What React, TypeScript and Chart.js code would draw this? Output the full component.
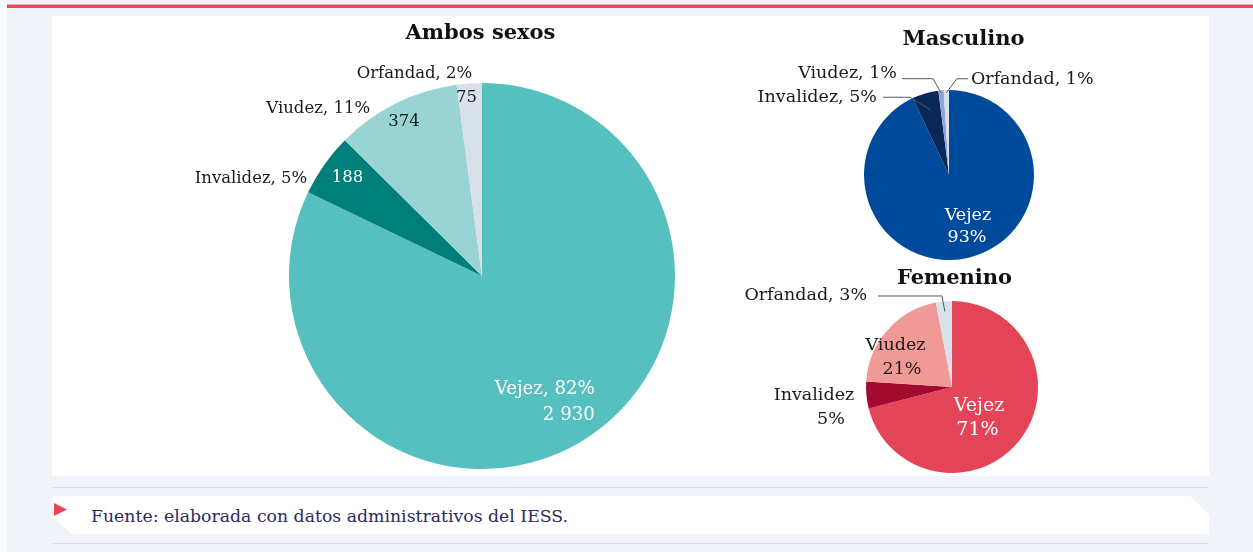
import React, { useEffect, useRef } from "react";
import { Chart, registerables } from "chart.js";

Chart.register(...registerables);

// ---------- data ----------
const categories = ["Vejez", "Invalidez", "Viudez", "Orfandad"];
const ambosValues = [2930, 188, 374, 75];
const masculinoValues = [93, 5, 1, 1];
const femeninoValues = [71, 5, 21, 3];

const titles = ["Ambos sexos", "Masculino", "Femenino"];

// label texts (one entry per drawn line): [sliceIndex, text]
const ambosLabelTexts: [number, string][] = [
  [0, "Vejez, 82%"],
  [0, "2 930"],
  [1, "188"],
  [1, "Invalidez, 5%"],
  [2, "374"],
  [2, "Viudez, 11%"],
  [3, "75"],
  [3, "Orfandad, 2%"],
];
const masculinoLabelTexts: [number, string][] = [
  [0, "Vejez"],
  [0, "93%"],
  [1, "Invalidez, 5%"],
  [2, "Viudez, 1%"],
  [3, "Orfandad, 1%"],
];
const femeninoLabelTexts: [number, string][] = [
  [0, "Vejez"],
  [0, "71%"],
  [1, "Invalidez"],
  [1, "5%"],
  [2, "Viudez"],
  [2, "21%"],
  [3, "Orfandad, 3%"],
];
const sourceText = "Fuente: elaborada con datos administrativos del IESS.";

// ---------- styles ----------
const FONT = '"DejaVu Serif", "Liberation Serif", serif';
const DARK = "#1a1a1a";
const WHITE = "#ffffff";
const LEADER = "#4b5b6b";

const ambosColors = ["#56bfbf", "#007f7a", "#9ad3d4", "#d8e0ea"];
const masculinoColors = ["#004a9b", "#0a2857", "#8fa3dc", "#d8e0ea"];
const femeninoColors = ["#e34458", "#a30a2f", "#f09a98", "#d8e0ea"];

// label layout, same order as the texts: f (fraction of radius along mid-angle), dx, dy, align, size, color
type LL = { f: number; dx: number; dy: number; align: CanvasTextAlign; size: number; color: string };
const ambosLabelLayout: LL[] = [
  { f: 0.7, dx: 41, dy: -1.5, align: "right", size: 18.2, color: WHITE },
  { f: 0.7, dx: 41, dy: 24.5, align: "right", size: 18.2, color: WHITE },
  { f: 0.853, dx: 0, dy: -3, align: "center", size: 16.5, color: WHITE },
  { f: 1, dx: -17, dy: 14, align: "right", size: 16.5, color: DARK },
  { f: 0.908, dx: 0, dy: 3, align: "center", size: 16.5, color: DARK },
  { f: 1, dx: -26, dy: 6, align: "right", size: 16.5, color: DARK },
  { f: 0.924, dx: -3.7, dy: 0, align: "center", size: 16.5, color: DARK },
  { f: 1, dx: 3, dy: -10, align: "right", size: 16.5, color: DARK },
];
const masculinoLabelLayout: LL[] = [
  { f: 0.615, dx: 7.6, dy: -11, align: "center", size: 17.5, color: WHITE },
  { f: 0.615, dx: 6.6, dy: 11, align: "center", size: 17.5, color: WHITE },
  { f: 1, dx: -48.3, dy: 4, align: "right", size: 17.5, color: DARK },
  { f: 1, dx: -44, dy: -17, align: "right", size: 17.5, color: DARK },
  { f: 1, dx: 24.6, dy: -10.5, align: "left", size: 17.5, color: DARK },
];
const femeninoLabelLayout: LL[] = [
  { f: 0.45, dx: -3.6, dy: -4.7, align: "center", size: 19, color: WHITE },
  { f: 0.45, dx: -5.1, dy: 19.3, align: "center", size: 19, color: WHITE },
  { f: 1, dx: -52.4, dy: 0, align: "center", size: 17.5, color: DARK },
  { f: 1, dx: -35.4, dy: 24, align: "center", size: 17.5, color: DARK },
  { f: 0.6, dx: -17.8, dy: -7.9, align: "center", size: 17.5, color: DARK },
  { f: 0.6, dx: -11.3, dy: 16.1, align: "center", size: 17.5, color: DARK },
  { f: 1, dx: -76.9, dy: -6.4, align: "right", size: 17.5, color: DARK },
];

type Leader = { i: number; f: number; pts: [number, number][]; fEnd: number };
const masculinoLeaders: Leader[] = [
  { i: 1, f: 1, pts: [[-42.3, 3.9], [-15.3, 3.9]], fEnd: 0.8 },
  { i: 2, f: 1, pts: [[-39, -11.7], [-8, -11.7]], fEnd: 0.97 },
  { i: 3, f: 1, pts: [[21.6, -11.3], [10.6, -11.3]], fEnd: 0.97 },
];
const femeninoLeaders: Leader[] = [
  { i: 3, f: 1, pts: [[-65.9, -5.4], [-1.9, -5.4]], fEnd: 0.88 },
];

const pieLabels = {
  id: "pieLabels",
  afterDatasetsDraw(chart: any, _args: any, opts: any) {
    const ctx: CanvasRenderingContext2D = chart.ctx;
    const meta = chart.getDatasetMeta(0);
    const arcAt = (i: number, f: number) => {
      const a: any = meta.data[i];
      const mid = (a.startAngle + a.endAngle) / 2;
      const r = a.outerRadius * f;
      return { x: a.x + Math.cos(mid) * r, y: a.y + Math.sin(mid) * r };
    };
    ctx.save();
    for (const ld of (opts.leaders || []) as Leader[]) {
      const base = arcAt(ld.i, ld.f);
      const end = arcAt(ld.i, ld.fEnd);
      ctx.beginPath();
      ld.pts.forEach(([dx, dy], k) => {
        if (k === 0) ctx.moveTo(base.x + dx, base.y + dy);
        else ctx.lineTo(base.x + dx, base.y + dy);
      });
      ctx.lineTo(end.x, end.y);
      ctx.strokeStyle = LEADER;
      ctx.lineWidth = 1;
      ctx.stroke();
    }
    const texts: [number, string][] = opts.texts || [];
    const layout: LL[] = opts.layout || [];
    texts.forEach(([i, text], k) => {
      const l = layout[k];
      const p = arcAt(i, l.f);
      ctx.font = `${l.size}px ${FONT}`;
      ctx.fillStyle = l.color;
      ctx.textAlign = l.align;
      ctx.textBaseline = "middle";
      ctx.fillText(text, p.x + l.dx, p.y + l.dy);
    });
    const area = chart.chartArea;
    ctx.font = `bold ${opts.titleSize}px ${FONT}`;
    ctx.fillStyle = "#111111";
    ctx.textAlign = "center";
    ctx.textBaseline = "middle";
    ctx.fillText(opts.title, (area.left + area.right) / 2 + opts.titleDx, area.top - opts.titleGap);
    ctx.restore();
  },
};

function PieCanvas(props: {
  values: number[];
  colors: string[];
  width: number;
  height: number;
  left: number;
  top: number;
  padding: { left: number; right: number; top: number; bottom: number };
  pluginOpts: any;
}) {
  const ref = useRef<HTMLCanvasElement | null>(null);
  useEffect(() => {
    if (!ref.current) return;
    const chart = new Chart(ref.current, {
      type: "pie",
      data: {
        labels: categories,
        datasets: [
          {
            data: props.values,
            backgroundColor: props.colors,
            borderWidth: 0,
            hoverOffset: 0,
            offset: 0,
          },
        ],
      },
      options: {
        responsive: false,
        animation: false,
        devicePixelRatio: 1,
        events: [],
        layout: { padding: props.padding },
        plugins: {
          legend: { display: false },
          tooltip: { enabled: false },
          title: { display: false },
          pieLabels: props.pluginOpts,
        } as any,
      },
      plugins: [pieLabels as any],
    });
    return () => chart.destroy();
  }, []);
  return (
    <canvas
      ref={ref}
      width={props.width}
      height={props.height}
      style={{ position: "absolute", left: props.left, top: props.top, width: props.width, height: props.height }}
    />
  );
}

export default function App() {
  useEffect(() => {
    document.body.style.margin = "0";
  }, []);
  return (
    <div style={{ position: "relative", width: 1253, height: 552, background: "#f0f3f7", overflow: "hidden" }}>
      <div style={{ position: "absolute", left: 0, top: 0, width: 7, height: 552, background: "#f9fafc" }} />
      <div style={{ position: "absolute", left: 7, top: 4, width: 1246, height: 1, background: "#f1a9b3" }} />
      <div style={{ position: "absolute", left: 7, top: 5, width: 1246, height: 2.5, background: "#e8475a" }} />
      <div style={{ position: "absolute", left: 52, top: 16, width: 1157, height: 460, background: "#ffffff" }} />

      <PieCanvas
        values={ambosValues}
        colors={ambosColors}
        left={52}
        top={16}
        width={708}
        height={460}
        padding={{ left: 237, right: 85, top: 67, bottom: 7 }}
        pluginOpts={{ texts: ambosLabelTexts, layout: ambosLabelLayout, leaders: [], title: titles[0], titleSize: 21, titleDx: -1.5, titleGap: 49 }}
      />
      <PieCanvas
        values={masculinoValues}
        colors={masculinoColors}
        left={740}
        top={20}
        width={440}
        height={250}
        padding={{ left: 124, right: 146, top: 70, bottom: 10 }}
        pluginOpts={{ texts: masculinoLabelTexts, layout: masculinoLabelLayout, leaders: masculinoLeaders, title: titles[1], titleSize: 21, titleDx: 14.5, titleGap: 50 }}
      />
      <PieCanvas
        values={femeninoValues}
        colors={femeninoColors}
        left={740}
        top={262}
        width={440}
        height={214}
        padding={{ left: 126, right: 142, top: 39, bottom: 3 }}
        pluginOpts={{ texts: femeninoLabelTexts, layout: femeninoLabelLayout, leaders: femeninoLeaders, title: titles[2], titleSize: 21, titleDx: 2.5, titleGap: 22 }}
      />

      <div style={{ position: "absolute", left: 53, top: 487, width: 1155, height: 1, background: "#d8dce8" }} />
      <div
        style={{
          position: "absolute",
          left: 53,
          top: 496,
          width: 1156,
          height: 38,
          background: "#ffffff",
          clipPath: "polygon(0 0, 1137px 0, 1156px 19px, 1156px 38px, 19px 38px, 0 22px)",
        }}
      />
      <div
        style={{
          position: "absolute",
          left: 54,
          top: 503,
          width: 13,
          height: 13,
          background: "#e8455a",
          clipPath: "polygon(0 0, 100% 50%, 0 100%)",
        }}
      />
      <div
        style={{
          position: "absolute",
          left: 91,
          top: 497,
          height: 38,
          lineHeight: "38px",
          fontFamily: FONT,
          fontSize: 17.3,
          color: "#2d2a5c",
          whiteSpace: "nowrap",
        }}
      >
        {sourceText}
      </div>
      <div style={{ position: "absolute", left: 53, top: 543, width: 1155, height: 1, background: "#d8dce8" }} />
    </div>
  );
}
